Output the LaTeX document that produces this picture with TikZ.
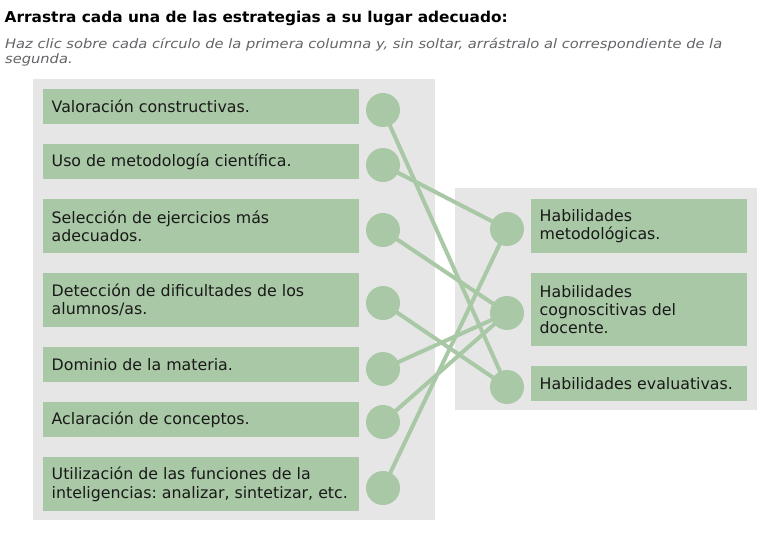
\documentclass[tikz,border=0pt]{standalone}
\usepackage{fontspec}
\setmainfont{DejaVu Sans}
\definecolor{boxgreen}{RGB}{169,200,166}
\definecolor{panelgray}{RGB}{230,230,230}
\definecolor{subgray}{RGB}{100,100,104}
\definecolor{txt}{RGB}{25,25,25}
\newlength\tmpw
\tikzset{
  panel/.style={fill=panelgray, draw=none},
  boxshape/.style={fill=boxgreen, draw=none, anchor=north west, inner sep=0pt,
    minimum width=316pt, minimum height=35pt},
  rboxshape/.style={boxshape, minimum width=216pt},
  boxtext/.style={anchor=west, inner xsep=8.5pt, inner ysep=0pt, align=left, text=txt,
    font=\fontsize{15.8}{18.3}\selectfont},
  circ/.style={circle, fill=boxgreen, draw=none, minimum size=34pt, inner sep=0pt},
  conn/.style={draw=boxgreen, line width=4pt}
}
\begin{document}
\frenchspacing
\settowidth\tmpw{\bfseries\fontsize{15}{17}\selectfont Arrastra cada una de las estrategias a su lugar adecuado:}%
\pgfmathsetmacro\titsc{503/\tmpw}%
\settowidth\tmpw{\itshape\fontsize{13}{15}\selectfont Haz clic sobre cada círculo de la primera columna y, sin soltar, arrástralo al correspondiente de la}%
\pgfmathsetmacro\subsc{717/\tmpw}%
\begin{tikzpicture}[x=1pt,y=-1pt]
\useasboundingbox (0,0) rectangle (772,550);
\node[anchor=base west, inner sep=0pt, text=black] (title) at (4.5,22.5)
  {\scalebox{\titsc}[1]{\bfseries\fontsize{15}{17}\selectfont Arrastra cada una de las estrategias a su lugar adecuado:}};
\node[anchor=base west, inner sep=0pt, text=subgray] (sub1) at (5,48.7)
  {\scalebox{\subsc}[1]{\itshape\fontsize{13}{15}\selectfont Haz clic sobre cada círculo de la primera columna y, sin soltar, arrástralo al correspondiente de la}};
\node[anchor=base west, inner sep=0pt, text=subgray] (sub2) at (5,63.3)
  {\scalebox{\subsc}[1]{\itshape\fontsize{13}{15}\selectfont segunda.}};
% panels
\path[panel] (33,79) rectangle (435,520);
\path[panel] (455,188) rectangle (757,410);
% left boxes
\node[boxshape, minimum height=35pt] (b1) at (43,89) {};
\node[boxshape, minimum height=35pt] (b2) at (43,144) {};
\node[boxshape, minimum height=54pt] (b3) at (43,199) {};
\node[boxshape, minimum height=54pt] (b4) at (43,273) {};
\node[boxshape, minimum height=35pt] (b5) at (43,347) {};
\node[boxshape, minimum height=35pt] (b6) at (43,402) {};
\node[boxshape, minimum height=54pt] (b7) at (43,457) {};
\node[boxtext] (t1) at (b1.west) {Valoración constructivas.};
\node[boxtext] (t2) at (b2.west) {Uso de metodología científica.};
\node[boxtext] (t3) at (b3.west) {Selección de ejercicios más\\adecuados.};
\node[boxtext] (t4) at (b4.west) {Detección de dificultades de los\\alumnos/as.};
\node[boxtext] (t5) at (b5.west) {Dominio de la materia.};
\node[boxtext] (t6) at (b6.west) {Aclaración de conceptos.};
\node[boxtext] (t7) at (b7.west) {Utilización de las funciones de la\\inteligencias: analizar, sintetizar, etc.};
% right boxes
\node[rboxshape, minimum height=54pt] (rb1) at (531,199) {};
\node[rboxshape, minimum height=73pt] (rb2) at (531,273) {};
\node[rboxshape, minimum height=35pt] (rb3) at (531,366) {};
\node[boxtext] (rt1) at (rb1.west) {Habilidades\\metodológicas.};
\node[boxtext] (rt2) at (rb2.west) {Habilidades\\cognoscitivas del\\docente.};
\node[boxtext] (rt3) at (rb3.west) {Habilidades evaluativas.};
% circles
\node[circ] (c1) at (383,110) {};
\node[circ] (c2) at (383,165) {};
\node[circ] (c3) at (383,230) {};
\node[circ] (c4) at (383,303) {};
\node[circ] (c5) at (383,369) {};
\node[circ] (c6) at (383,422) {};
\node[circ] (c7) at (383,488) {};
\node[circ] (d1) at (507,229) {};
\node[circ] (d2) at (507,313) {};
\node[circ] (d3) at (507,387) {};
% connectors
\draw[conn] (c1.center) -- (d3.center);
\draw[conn] (c2.center) -- (d1.center);
\draw[conn] (c3.center) -- (d2.center);
\draw[conn] (c4.center) -- (d3.center);
\draw[conn] (c5.center) -- (d2.center);
\draw[conn] (c6.center) -- (d2.center);
\draw[conn] (c7.center) -- (d1.center);
\end{tikzpicture}
\end{document}
